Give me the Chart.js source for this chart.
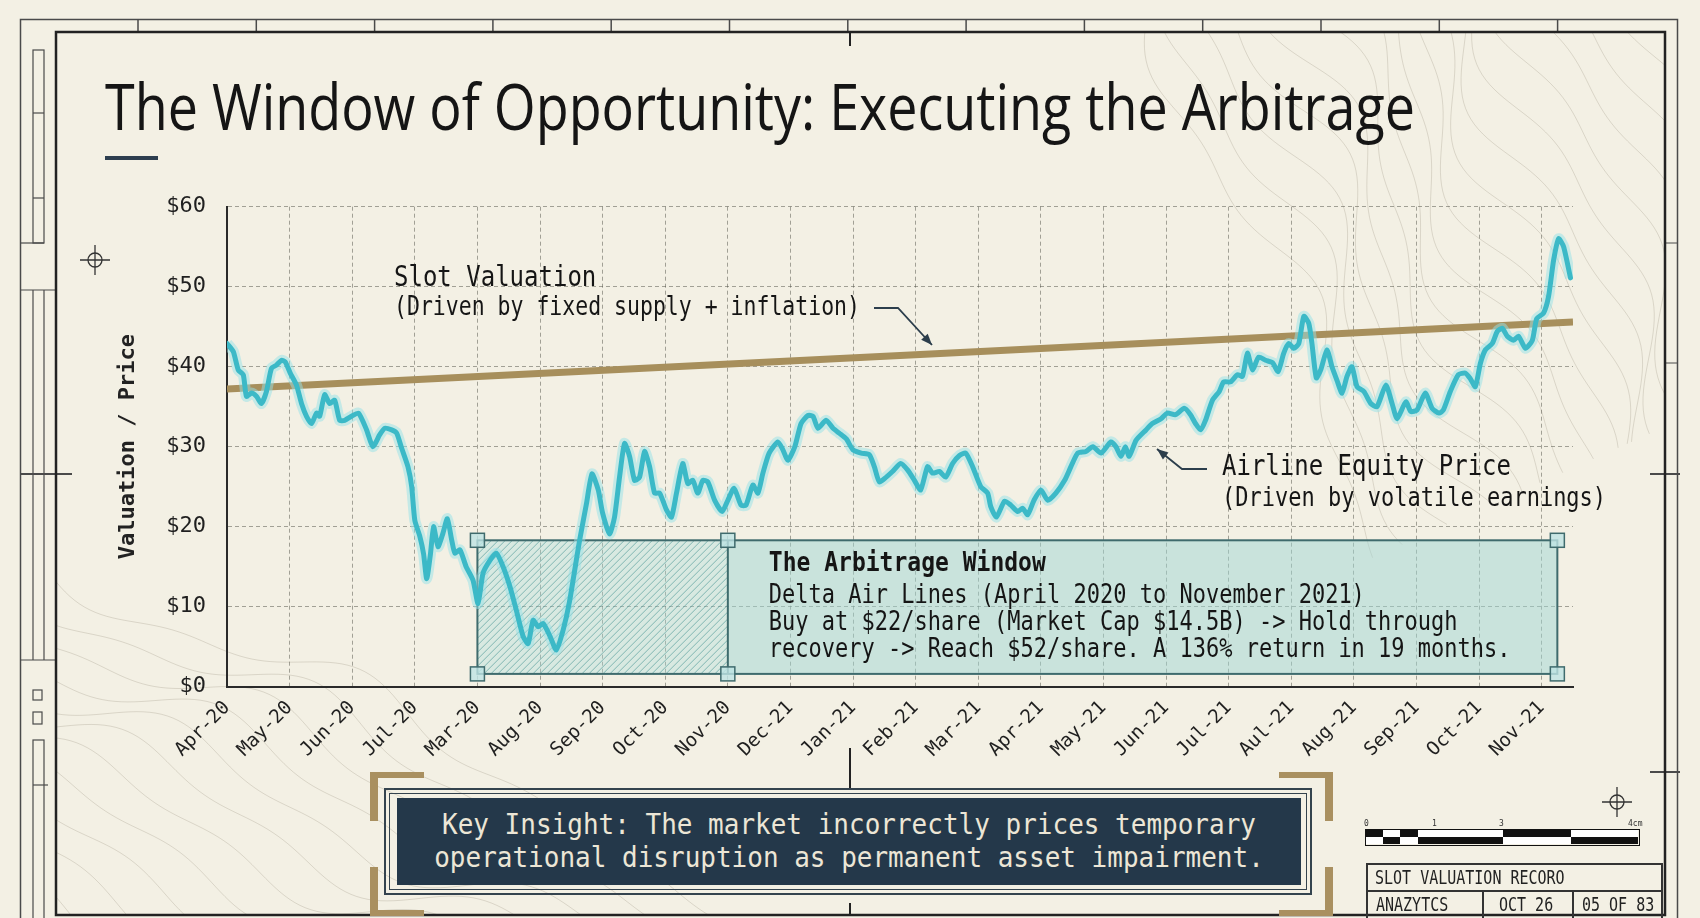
<!DOCTYPE html>
<html>
<head>
<meta charset="utf-8">
<script src="https://cdn.jsdelivr.net/npm/chart.js@4.4.1/dist/chart.umd.min.js"></script>
<style>
  html, body { margin:0; padding:0; background:#f3f0e4; }
  #page { position:relative; width:1700px; height:918px; overflow:hidden; background:#f3f0e4; }
  #page canvas { position:absolute; left:0; top:0; }
  .abs { position:absolute; }
  #title { left:105px; top:74px; font-family:'Open Sans','Noto Sans',sans-serif; font-size:64px; line-height:64px;
           color:#151515; white-space:nowrap; transform-origin:left top; }
  #title-bar { left:105px; top:156px; width:53px; height:4px; background:#2d3e4f; }
  .mono { font-family:'DejaVu Sans Mono', monospace; }
  .bracket { position:absolute; width:46px; height:43px; border-color:#a99060; border-style:solid; }
  #insight-frame { left:384px; top:788px; width:924px; height:103px; border:2px solid #34434e; }
  #insight-frame2 { left:389px; top:793px; width:916px; height:95px; border:1px solid #34434e; }
  #insight { left:397px; top:798px; width:904px; height:87px; background:#24384a; color:#ece6d6;
             font-size:26px; line-height:33px; text-align:center; padding-top:10px; box-sizing:border-box; }
  #insight span { display:inline-block; transform:scaleY(1.12); }
  #tblock { left:1366px; top:863px; width:297px; height:60px; border:2px solid #333; box-sizing:border-box; font-size:15px; color:#222; }
  #tblock div { position:absolute; white-space:nowrap; }
  #tblock .t { transform:scaleY(1.3); transform-origin:left center; }
  .scale-cell { position:absolute; height:7px; }
  .scale-lbl { position:absolute; font-size:8px; color:#333; top:819px; }
</style>
</head>
<body>
<div id="page">
  <canvas id="chart" width="1700" height="918"></canvas>
  <div id="title" class="abs">The Window of Opportunity: Executing the Arbitrage</div>
  <div id="title-bar" class="abs"></div>

  <div class="bracket" style="left:370px;top:772px;border-width:6px 0 0 8px;"></div>
  <div class="bracket" style="left:370px;top:867px;border-width:0 0 6px 8px;"></div>
  <div class="bracket" style="left:1279px;top:772px;border-width:6px 8px 0 0;"></div>
  <div class="bracket" style="left:1279px;top:867px;border-width:0 8px 6px 0;"></div>
  <div id="insight-frame" class="abs"></div>
  <div id="insight-frame2" class="abs"></div>
  <div id="insight" class="abs mono"><span>Key Insight: The market incorrectly prices temporary</span><br><span>operational disruption as permanent asset impairment.</span></div>

  <div id="scalebar"></div>
  <div id="tblock" class="abs mono">
    <div style="left:0;top:25px;width:293px;border-top:2px solid #333;"></div>
    <div style="left:114px;top:25px;height:35px;border-left:2px solid #333;"></div>
    <div style="left:204px;top:25px;height:35px;border-left:2px solid #333;"></div>
    <div class="t" style="left:7px;top:4px;">SLOT VALUATION RECORO</div>
    <div class="t" style="left:8px;top:31px;">ANAZYTCS</div>
    <div class="t" style="left:131px;top:31px;">OCT 26</div>
    <div class="t" style="left:214px;top:31px;">05 OF 83</div>
  </div>
</div>

<script>
// ---------- data ----------
const months = ['Apr-20','May-20','Jun-20','Jul-20','Mar-20','Aug-20','Sep-20','Oct-20','Nov-20','Dec-21','Jan-21',
  'Feb-21','Mar-21','Apr-21','May-21','Jun-21','Jul-21','Aul-21','Aug-21','Sep-21','Oct-21','Nov-21'];
const yTicks = [0, 10, 20, 30, 40, 50, 60];

// airline equity price, position in months from Apr-20
const equityPos = [
  0.00,0.10,0.18,0.26,0.31,0.39,0.47,0.55,0.63,0.71,0.79,0.87,0.93,
  1.01,1.11,1.19,1.27,1.35,1.43,1.48,1.56,1.64,1.72,1.80,1.88,1.99,
  2.10,2.23,2.33,2.44,2.52,2.63,2.71,2.79,2.89,2.95,
  3.00,3.08,3.14,3.19,3.25,3.30,3.37,3.45,3.52,3.59,3.64,3.72,3.82,3.93,
  4.01,4.09,4.20,4.30,4.41,4.52,4.62,4.73,4.81,4.89,4.97,
  5.05,5.16,5.26,5.37,5.47,5.63,5.74,5.83,5.93,
  6.00,6.11,6.19,6.27,6.35,6.43,6.51,6.59,6.67,6.75,6.83,6.91,
  7.02,7.10,7.18,7.28,7.36,7.44,7.52,7.60,7.68,7.79,7.91,
  8.00,8.10,8.21,8.29,8.40,8.48,8.56,8.66,8.80,8.88,8.96,
  9.07,9.17,9.28,9.36,9.44,9.57,9.68,9.78,9.89,
  10.00,10.13,10.26,10.34,10.42,10.53,10.63,10.76,10.87,10.98,
  11.08,11.19,11.27,11.38,11.48,11.59,11.70,11.80,11.91,
  12.04,12.15,12.20,12.29,12.42,12.52,12.63,12.71,12.79,12.89,
  13.00,13.11,13.24,13.38,13.48,13.59,13.72,13.83,13.96,
  14.12,14.20,14.28,14.35,14.41,14.52,14.68,14.78,14.92,
  15.02,15.15,15.29,15.39,15.47,15.55,15.63,15.74,15.85,15.92,
  16.03,16.14,16.22,16.30,16.38,16.48,16.59,16.70,16.79,16.88,16.96,
  17.04,17.12,17.20,17.28,17.33,17.40,17.47,17.57,17.65,17.73,17.81,17.89,17.97,
  18.05,18.16,18.27,18.37,18.51,18.61,18.69,18.83,18.91,
  19.01,19.14,19.25,19.36,19.43,19.54,19.67,19.78,19.86,19.94,
  20.02,20.10,20.21,20.29,20.37,20.45,20.55,20.63,20.74,20.85,20.92,
  21.03,21.11,21.19,21.27,21.35,21.46
];
const equityVal = [
  42.9,41.9,39.6,39.0,36.3,36.7,36.3,35.4,36.9,39.8,40.2,40.8,40.6,
  39.2,37.7,35.4,33.8,32.9,34.2,33.8,36.5,35.4,35.8,33.3,33.3,33.8,
  34.2,32.1,30.0,31.5,32.3,32.1,31.7,29.8,27.5,25.0,
  20.8,18.8,16.6,13.5,16.6,20.0,17.5,19.2,21.0,18.3,16.7,17.1,15.0,13.3,
  10.4,14.2,15.8,16.7,15.0,12.5,9.6,6.3,5.4,8.3,7.5,
  7.9,6.3,4.6,7.1,10.6,18.2,22.8,26.6,24.6,
  21.7,19.1,21.2,26.2,30.4,28.8,25.8,26.2,29.4,27.5,24.2,24.2,
  22.1,21.2,24.2,27.9,25.4,25.8,24.2,25.8,25.6,23.3,21.9,
  23.3,24.8,22.7,22.7,25.2,24.2,26.7,29.2,30.6,29.6,28.3,
  30.0,32.9,33.9,33.8,32.3,33.3,32.3,31.7,31.0,
  29.6,29.2,29.0,27.5,25.6,26.2,26.9,27.9,27.1,25.8,
  24.6,27.5,26.7,26.9,26.2,27.9,28.9,29.2,27.5,
  25.0,24.2,22.5,21.2,23.2,22.7,21.9,22.3,21.5,23.3,
  24.6,23.3,24.2,25.8,27.5,29.2,29.4,30.0,29.2,
  30.6,30.0,28.8,30.0,28.8,30.8,32.1,32.9,33.5,
  34.2,34.0,34.8,34.0,32.9,32.1,33.3,35.8,36.9,38.1,
  38.1,39.0,38.8,41.7,39.6,41.2,40.8,40.5,39.4,41.7,42.9,
  42.3,42.9,46.3,45.4,42.9,38.6,39.6,42.1,40.0,38.3,36.7,38.8,40.0,
  37.5,36.9,35.4,35.0,37.7,35.4,33.5,35.6,34.4,
  34.6,36.7,34.8,34.2,34.6,36.9,39.0,39.2,38.5,37.5,
  40.4,42.1,42.9,44.4,44.8,43.8,43.3,43.8,42.3,43.3,46.0,
  46.7,48.8,53.3,56.0,55.0,51.1
];

// slot valuation trend (start / end of the axis)
const slotPos = [0, 21.5];
const slotVal = [37.2, 45.6];

// arbitrage window, in months and dollars
const windowStart = 4, windowEnd = 8, noteEnd = 21.25;
const windowLow = 1.6, windowHigh = 18.3;

const noteLines = ['Delta Air Lines (April 2020 to November 2021)',
  'Buy at $22/share (Market Cap $14.5B) -> Hold through',
  'recovery -> Reach $52/share. A 136% return in 19 months.'];

// ---------- drawing helpers ----------
const MONO = "'DejaVu Sans Mono', monospace";
const INK = '#2c3e4c';

function crosshair(ctx, x, y) {
  ctx.strokeStyle = '#333'; ctx.lineWidth = 1.3;
  ctx.beginPath(); ctx.arc(x, y, 7, 0, Math.PI * 2); ctx.stroke();
  ctx.beginPath(); ctx.moveTo(x - 15, y); ctx.lineTo(x + 15, y);
  ctx.moveTo(x, y - 15); ctx.lineTo(x, y + 15); ctx.stroke();
}

function contours(ctx, x0, y0, ang, len, count, gap, amp) {
  const dx = Math.cos(ang), dy = Math.sin(ang), nx = -dy, ny = dx;
  for (let k = 0; k < count; k++) {
    ctx.beginPath();
    for (let t = 0; t <= len; t += 6) {
      const off = k * gap + amp * Math.sin(t / 70 + k * 0.45) + amp * 0.4 * Math.sin(t / 31 + k * 1.3);
      const px = x0 + dx * t + nx * off, py = y0 + dy * t + ny * off;
      t ? ctx.lineTo(px, py) : ctx.moveTo(px, py);
    }
    ctx.stroke();
  }
}

function line(ctx, x1, y1, x2, y2) {
  ctx.beginPath(); ctx.moveTo(x1, y1); ctx.lineTo(x2, y2); ctx.stroke();
}

// condensed-looking text: stretch vertically around its middle
function tallText(ctx, text, x, y, sy) {
  ctx.save();
  ctx.translate(x, y); ctx.scale(1, sy);
  ctx.fillText(text, 0, 0);
  ctx.restore();
}

function arrow(ctx, pts) {
  ctx.strokeStyle = INK; ctx.fillStyle = INK; ctx.lineWidth = 1.8;
  ctx.beginPath(); ctx.moveTo(pts[0][0], pts[0][1]);
  pts.slice(1).forEach(p => ctx.lineTo(p[0], p[1]));
  ctx.stroke();
  const [ax, ay] = pts[pts.length - 2], [bx, by] = pts[pts.length - 1];
  const a = Math.atan2(by - ay, bx - ax);
  ctx.beginPath(); ctx.moveTo(bx, by);
  ctx.lineTo(bx - 12 * Math.cos(a - 0.38), by - 12 * Math.sin(a - 0.38));
  ctx.lineTo(bx - 12 * Math.cos(a + 0.38), by - 12 * Math.sin(a + 0.38));
  ctx.closePath(); ctx.fill();
}

function drawFrame(ctx) {
  ctx.strokeStyle = '#4a4a4a'; ctx.lineWidth = 1.5;
  ctx.strokeRect(20.5, 19.5, 1657, 940);
  for (let x = 138; x < 1665; x += 118.3) line(ctx, x, 19, x, 32);
  // left band
  ctx.lineWidth = 1.2;
  ctx.strokeRect(33, 50, 11, 193);
  line(ctx, 33, 113, 44, 113); line(ctx, 33, 198, 44, 198);
  line(ctx, 20, 243, 44, 243); line(ctx, 20, 290, 56, 290);
  line(ctx, 33, 290, 33, 660); line(ctx, 44, 290, 44, 660);
  line(ctx, 20, 660, 56, 660);
  ctx.strokeRect(33, 690, 9, 10); ctx.strokeRect(33, 712, 9, 12);
  ctx.strokeRect(33, 740, 11, 190); line(ctx, 33, 785, 48, 785);
  ctx.lineWidth = 2; line(ctx, 20, 474, 72, 474);
  // right band marks
  line(ctx, 1650, 474, 1680, 474); line(ctx, 1650, 772, 1680, 772);
  ctx.lineWidth = 1; line(ctx, 1665, 243, 1677, 243); line(ctx, 1665, 363, 1677, 363);
  // main frame
  ctx.strokeStyle = '#222'; ctx.lineWidth = 2.5;
  ctx.strokeRect(56, 32, 1609, 883);
  ctx.lineWidth = 2;
  line(ctx, 850, 32, 850, 46); line(ctx, 850, 748, 850, 788); line(ctx, 850, 903, 850, 915);
}

const decor = {
  id: 'decor',
  beforeDraw(chart) {
    const { ctx } = chart;
    ctx.save();
    ctx.fillStyle = '#f3f0e4'; ctx.fillRect(0, 0, chart.width, chart.height);
    ctx.save();
    ctx.beginPath(); ctx.rect(57, 33, 1607, 881); ctx.clip();
    ctx.strokeStyle = 'rgba(115,105,85,0.2)'; ctx.lineWidth = 1;
    contours(ctx, 1150, 0, 1.15, 600, 16, -28, 26);
    contours(ctx, 40, 560, 0.42, 760, 12, 30, 22);
    ctx.restore();
    drawFrame(ctx);
    crosshair(ctx, 95, 260); crosshair(ctx, 1617, 802);
    ctx.restore();
  },
  beforeDatasetsDraw(chart) {
    const { ctx, scales: { x, y } } = chart;
    const xa = x.getPixelForValue(windowStart), xb = x.getPixelForValue(windowEnd), xc = x.getPixelForValue(noteEnd);
    const yt = y.getPixelForValue(windowHigh), yb = y.getPixelForValue(windowLow);
    ctx.save();
    ctx.fillStyle = 'rgba(160,214,212,0.5)';
    ctx.fillRect(xb, yt, xc - xb, yb - yt);
    ctx.fillStyle = 'rgba(165,220,220,0.35)';
    ctx.fillRect(xa, yt, xb - xa, yb - yt);
    // hatching
    ctx.save();
    ctx.beginPath(); ctx.rect(xa, yt, xb - xa, yb - yt); ctx.clip();
    ctx.strokeStyle = 'rgba(55,140,140,0.55)'; ctx.lineWidth = 1;
    for (let s = xa - (yb - yt); s < xb; s += 7) line(ctx, s, yb, s + (yb - yt), yt);
    ctx.restore();
    ctx.strokeStyle = '#3f6b6d'; ctx.lineWidth = 2;
    ctx.strokeRect(xa, yt, xc - xa, yb - yt);
    line(ctx, xb, yt, xb, yb);
    ctx.lineWidth = 1.5;
    [[xa, yt], [xb, yt], [xc, yt], [xa, yb], [xb, yb], [xc, yb]].forEach(([cx, cy]) => {
      ctx.fillStyle = 'rgba(190,228,228,0.8)';
      ctx.fillRect(cx - 7, cy - 7, 14, 14);
      ctx.strokeRect(cx - 7, cy - 7, 14, 14);
    });
    ctx.restore();
  },
  afterDatasetsDraw(chart) {
    const { ctx, scales: { x, y } } = chart;
    const xb = x.getPixelForValue(windowEnd), yt = y.getPixelForValue(windowHigh);
    ctx.save();
    ctx.fillStyle = '#151515'; ctx.textBaseline = 'middle'; ctx.textAlign = 'left';
    ctx.font = `bold 23px ${MONO}`;
    tallText(ctx, 'The Arbitrage Window', xb + 41, yt + 24, 1.18);
    ctx.font = `22px ${MONO}`;
    noteLines.forEach((t, i) => tallText(ctx, t, xb + 41, yt + 56 + i * 27, 1.2));

    ctx.font = `24px ${MONO}`;
    tallText(ctx, 'Slot Valuation', 394, 279, 1.2);
    ctx.font = `21.5px ${MONO}`;
    tallText(ctx, '(Driven by fixed supply + inflation)', 394, 308, 1.2);
    ctx.font = `24px ${MONO}`;
    tallText(ctx, 'Airline Equity Price', 1222, 468, 1.2);
    ctx.font = `22px ${MONO}`;
    tallText(ctx, '(Driven by volatile earnings)', 1222, 499, 1.2);

    arrow(ctx, [[874, 308], [898, 308], [932, 345]]);
    arrow(ctx, [[1207, 469], [1182, 469], [1157, 449]]);
    ctx.restore();
  }
};

// ---------- chart ----------
const equityPts = equityPos.map((p, i) => ({ x: p, y: equityVal[i] }));
const slotPts = slotPos.map((p, i) => ({ x: p, y: slotVal[i] }));

Chart.defaults.font.family = MONO;
Chart.defaults.color = '#1f1f1f';

new Chart(document.getElementById('chart'), {
  type: 'line',
  data: {
    datasets: [
      { label: 'Airline Equity Price', data: equityPts, borderColor: '#3cb9c7', borderWidth: 5,
        pointRadius: 0, tension: 0.2, borderCapStyle: 'round', borderJoinStyle: 'round' },
      { label: 'glow', data: equityPts, borderColor: 'rgba(150,225,232,0.5)', borderWidth: 11,
        pointRadius: 0, tension: 0.2, borderJoinStyle: 'round' },
      { label: 'Slot Valuation', data: slotPts, borderColor: '#a78f5c', borderWidth: 7, pointRadius: 0 }
    ]
  },
  options: {
    responsive: false,
    devicePixelRatio: 1,
    animation: false,
    layout: { padding: { left: 0, top: 206.7, right: 127, bottom: 0 } },
    plugins: { legend: { display: false }, tooltip: { enabled: false } },
    scales: {
      x: {
        type: 'linear', min: 0, max: 21.5,
        afterFit: s => { s.height = 231.3; },
        grid: { color: 'rgba(80,80,70,0.5)', lineWidth: 1, drawTicks: false },
        border: { display: true, color: '#2a2a2a', width: 2, dash: [4, 3] },
        ticks: {
          stepSize: 1, includeBounds: false, autoSkip: false,
          maxRotation: 45, minRotation: 45, padding: 10,
          font: { size: 19 },
          callback: v => months[v] ?? ''
        }
      },
      y: {
        min: 0, max: 60,
        afterFit: s => { s.width = 227; },
        afterBuildTicks: s => { s.ticks = yTicks.map(v => ({ value: v })); },
        grid: { color: 'rgba(80,80,70,0.5)', lineWidth: 1, drawTicks: false },
        border: { display: true, color: '#2a2a2a', width: 2, dash: [4, 3] },
        ticks: { padding: 21, font: { size: 22 }, callback: v => '$' + v },
        title: { display: true, text: 'Valuation / Price', color: '#222',
                 font: { size: 22, weight: 'bold' }, padding: { top: 115, bottom: 0 } }
      }
    }
  },
  plugins: [decor]
});

// ---------- title fit & scale bar ----------
const title = document.getElementById('title');
title.style.transform = `scaleX(${1310 / title.getBoundingClientRect().width})`;

const bar = document.getElementById('scalebar');
const cells = [
  [1366, 17, '#111', '#fff'], [1383, 17, '#fff', '#111'], [1400, 18, '#111', '#fff'], [1418, 18, '#fff', '#111'],
  [1436, 67, '#fff', '#111'], [1503, 68, '#111', '#fff'], [1571, 67, '#fff', '#111']
];
cells.forEach(([l, w, top, bot]) => {
  bar.insertAdjacentHTML('beforeend',
    `<div class="scale-cell" style="left:${l}px;top:830px;width:${w}px;background:${top}"></div>` +
    `<div class="scale-cell" style="left:${l}px;top:837px;width:${w}px;background:${bot}"></div>`);
});
bar.insertAdjacentHTML('beforeend',
  `<div class="scale-cell" style="left:1365px;top:829px;width:273px;height:15px;border:1px solid #111"></div>` +
  `<div class="scale-lbl mono" style="left:1364px">0</div><div class="scale-lbl mono" style="left:1432px">1</div>` +
  `<div class="scale-lbl mono" style="left:1499px">3</div><div class="scale-lbl mono" style="left:1628px">4cm</div>`);
</script>
</body>
</html>
